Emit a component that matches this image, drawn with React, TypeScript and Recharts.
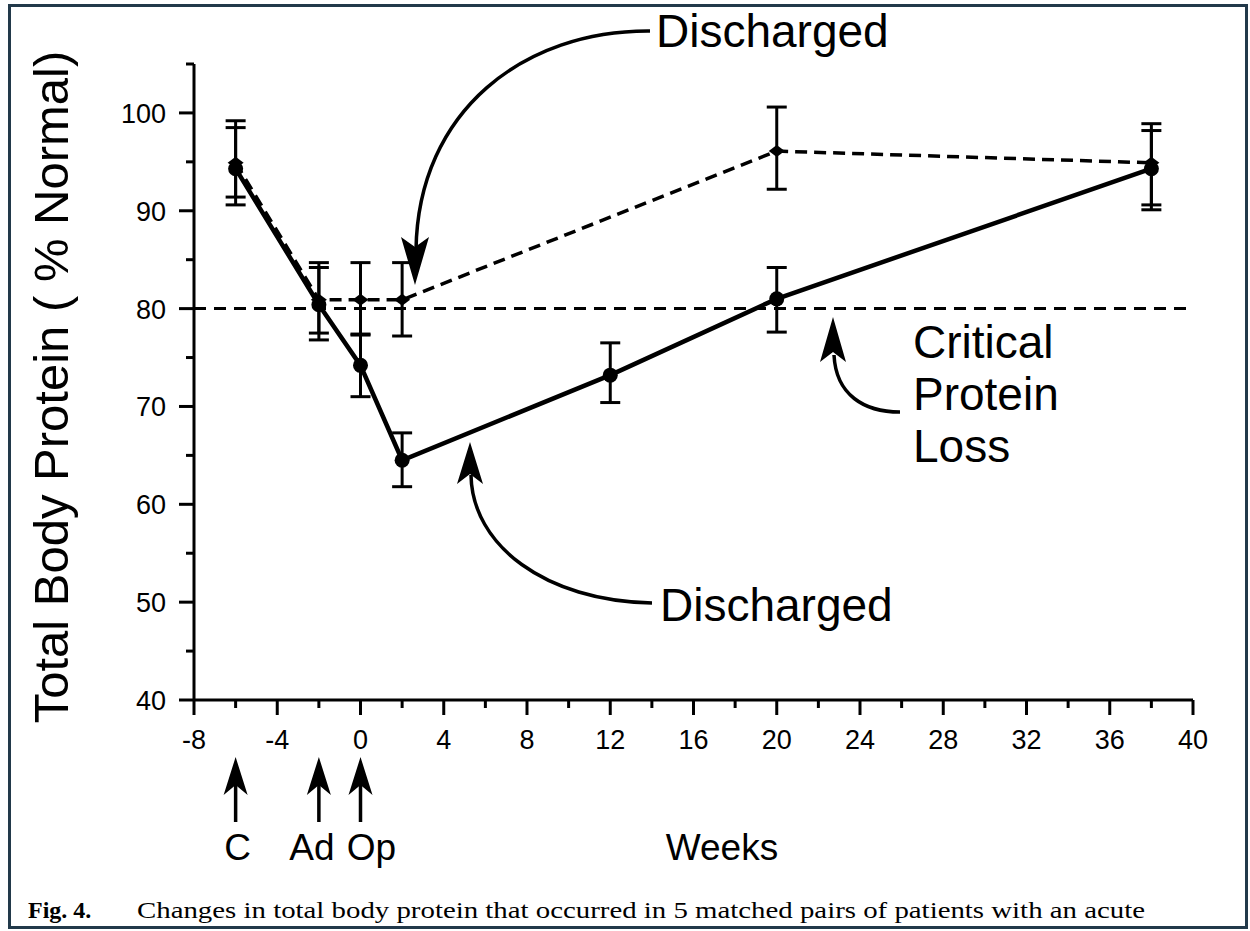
import React from 'react'
import { ComposedChart, Scatter, XAxis, YAxis, ErrorBar, ReferenceLine } from 'recharts'

// solid series (mean, lower and upper end of the error bar)
const solidWeeks = [-6, -2, 0, 2, 12, 20, 38]
const solidMean = [94.3, 80.4, 74.2, 64.5, 73.2, 81.0, 94.3]
const solidLow = [90.6, 76.8, 71.0, 61.8, 70.4, 77.6, 90.1]
const solidHigh = [98.5, 84.2, 77.4, 67.3, 76.5, 84.2, 98.2]

// dashed series
const dashedWeeks = [-6, -2, 0, 2, 20, 38]
const dashedMean = [94.9, 80.9, 80.9, 80.9, 96.1, 94.9]
const dashedLow = [91.4, 77.5, 77.3, 77.2, 92.2, 90.6]
const dashedHigh = [99.2, 84.7, 84.7, 84.7, 100.6, 98.9]

const criticalLevel = 80

const xTicks = [-8, -6, -4, -2, 0, 2, 4, 6, 8, 10, 12, 14, 16, 18, 20, 22, 24, 26, 28, 30, 32, 34, 36, 38, 40]
const yTicks = [40, 45, 50, 55, 60, 65, 70, 75, 80, 85, 90, 95, 100, 105]

const eventWeeks = [-6, -2, 0]
const eventLabels = ['C', 'Ad', 'Op']
const eventLabelShift = [2, -7, 11]

const FONT = '"Liberation Sans", Arial, Helvetica, sans-serif'
const SERIF = '"Liberation Serif", "Times New Roman", serif'

const W = 1250
const H = 931
const PLOT = { left: 194, top: 64, right: 1193, bottom: 700 }
const X_DOMAIN = [-8, 40]
const Y_DOMAIN = [40, 105]

const px = (w: number) => PLOT.left + ((w - X_DOMAIN[0]) / (X_DOMAIN[1] - X_DOMAIN[0])) * (PLOT.right - PLOT.left)

const solidData = solidWeeks.map((week, i) => ({
  week,
  value: solidMean[i],
  err: [solidMean[i] - solidLow[i], solidHigh[i] - solidMean[i]],
}))

const dashedData = dashedWeeks.map((week, i) => ({
  week,
  value: dashedMean[i],
  err: [dashedMean[i] - dashedLow[i], dashedHigh[i] - dashedMean[i]],
}))

const XTick = (props: any) => {
  const { x, y, payload } = props
  const major = payload.value % 4 === 0
  return (
    <g>
      <line x1={x} y1={y} x2={x} y2={y + (major ? 15 : 8)} stroke="#000" strokeWidth={3} />
      {major && (
        <text x={x} y={y + 49} textAnchor="middle" fontSize={27} fontFamily={FONT} fill="#000">
          {payload.value}
        </text>
      )}
    </g>
  )
}

const YTick = (props: any) => {
  const { x, y, payload } = props
  const major = payload.value % 10 === 0
  return (
    <g>
      <line x1={x - (major ? 15 : 8)} y1={y} x2={x} y2={y} stroke="#000" strokeWidth={3} />
      {major && (
        <text x={x - 28} y={y + 10} textAnchor="end" fontSize={27} fontFamily={FONT} fill="#000">
          {payload.value}
        </text>
      )}
    </g>
  )
}

const SolidDot = (props: any) => <circle cx={props.cx} cy={props.cy} r={7.5} fill="#000" />

const DashedDot = (props: any) => {
  const { cx, cy } = props
  return <path d={`M${cx - 8},${cy} L${cx},${cy - 6} L${cx + 8},${cy} L${cx},${cy + 6} Z`} fill="#000" />
}

// filled arrow head, tip at (x, y), pointing up (dir=-1) or down (dir=1)
const Head = ({ x, y, dir, len = 46, half = 14 }: { x: number; y: number; dir: number; len?: number; half?: number }) => {
  const b = y - dir * len
  const n = y - dir * (len - 10)
  return <path d={`M${x},${y} L${x - half},${b} L${x},${n} L${x + half},${b} Z`} fill="#000" />
}

const Annotations = () => (
  <svg width={W} height={H} style={{ position: 'absolute', left: 0, top: 0, pointerEvents: 'none' }}>
    <text x={68} y={387} transform="rotate(-90 68 387)" textAnchor="middle" fontSize={49} fontFamily={FONT} fill="#000">
      Total Body Protein ( % Normal)
    </text>

    {/* top label */}
    <text x={656} y={47} fontSize={46} fontFamily={FONT} fill="#000">Discharged</text>
    <path d="M650,31 C525,30 418,110 416,250" fill="none" stroke="#000" strokeWidth={3.5} />
    <Head x={415} y={285} dir={1} len={48} />

    {/* bottom label */}
    <text x={660} y={621} fontSize={46} fontFamily={FONT} fill="#000">Discharged</text>
    <path d="M652,603 C545,601 472,545 471,475" fill="none" stroke="#000" strokeWidth={3.5} />
    <Head x={470} y={442} dir={-1} len={42} half={13} />

    {/* critical level */}
    <text x={913} y={358} fontSize={46} fontFamily={FONT} fill="#000">Critical</text>
    <text x={913} y={410} fontSize={46} fontFamily={FONT} fill="#000">Protein</text>
    <text x={913} y={462} fontSize={46} fontFamily={FONT} fill="#000">Loss</text>
    <path d="M900,412 C864,412 836,395 834,355" fill="none" stroke="#000" strokeWidth={3.5} />
    <Head x={833} y={317} dir={-1} len={45} half={13} />

    {eventWeeks.map((w, i) => (
      <g key={eventLabels[i]}>
        <line x1={px(w)} y1={822} x2={px(w)} y2={785} stroke="#000" strokeWidth={3.5} />
        <Head x={px(w)} y={757} dir={-1} len={38} half={12} />
        <text x={px(w) + eventLabelShift[i]} y={860} textAnchor="middle" fontSize={37} fontFamily={FONT} fill="#000">
          {eventLabels[i]}
        </text>
      </g>
    ))}

    <text x={722} y={860} textAnchor="middle" fontSize={37} fontFamily={FONT} fill="#000">Weeks</text>

    <text x={28} y={918} fontSize={24} fontFamily={SERIF} fontWeight="bold" fill="#000">Fig. 4.</text>
    <text x={137} y={918} fontSize={24} fontFamily={SERIF} fill="#000" textLength={1008} lengthAdjust="spacingAndGlyphs">
      Changes in total body protein that occurred in 5 matched pairs of patients with an acute
    </text>
  </svg>
)

export default function App() {
  return (
    <div style={{ position: 'absolute', left: 0, top: 0, width: W, height: H, background: '#fff' }}>
      <ComposedChart
        width={W}
        height={H}
        margin={{ top: PLOT.top, right: W - PLOT.right, bottom: H - PLOT.bottom - 60, left: PLOT.left - 74 }}
      >
        <XAxis
          type="number"
          dataKey="week"
          domain={X_DOMAIN}
          ticks={xTicks}
          interval={0}
          height={60}
          tickSize={0}
          tickMargin={0}
          tickLine={false}
          axisLine={{ stroke: '#000', strokeWidth: 3 }}
          tick={<XTick />}
          allowDataOverflow
        />
        <YAxis
          type="number"
          dataKey="value"
          domain={Y_DOMAIN}
          ticks={yTicks}
          interval={0}
          width={74}
          tickSize={0}
          tickMargin={0}
          tickLine={false}
          axisLine={{ stroke: '#000', strokeWidth: 3 }}
          tick={<YTick />}
          allowDataOverflow
        />
        <ReferenceLine y={criticalLevel} stroke="#000" strokeWidth={3} strokeDasharray="12 8" />
        <Scatter
          data={dashedData}
          shape={DashedDot}
          line={{ stroke: '#000', strokeWidth: 3.5, strokeDasharray: '12 7' }}
          lineType="joint"
          isAnimationActive={false}
        >
          <ErrorBar dataKey="err" direction="y" width={10} stroke="#000" strokeWidth={3} isAnimationActive={false} />
        </Scatter>
        <Scatter
          data={solidData}
          shape={SolidDot}
          line={{ stroke: '#000', strokeWidth: 4.5 }}
          lineType="joint"
          isAnimationActive={false}
        >
          <ErrorBar dataKey="err" direction="y" width={10} stroke="#000" strokeWidth={3} isAnimationActive={false} />
        </Scatter>
      </ComposedChart>
      <Annotations />
      <div
        style={{
          position: 'absolute',
          left: 8,
          top: 4,
          width: 1240,
          height: 925,
          border: '3px solid #22394a',
          boxSizing: 'border-box',
          pointerEvents: 'none',
        }}
      />
    </div>
  )
}
